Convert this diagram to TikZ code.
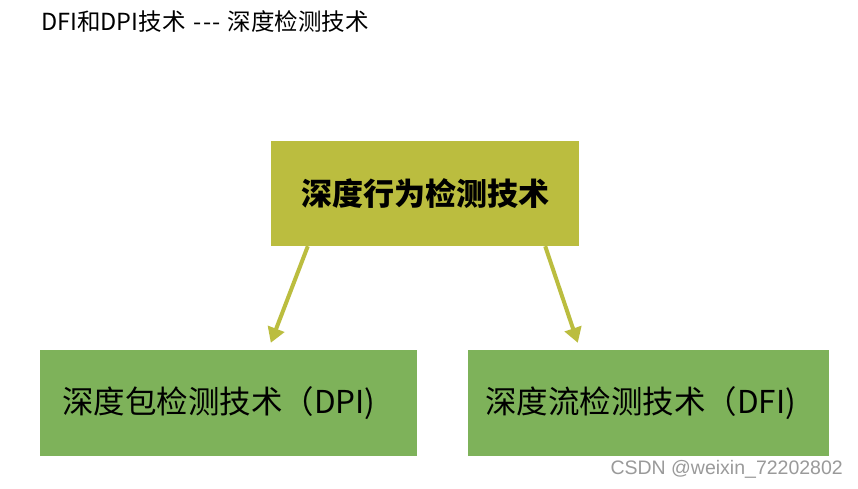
\documentclass[tikz,border=0pt]{standalone}
\usepackage{fontspec}
\setmainfont[Ligatures=NoCommon]{Noto Sans CJK SC}
\newfontfamily\markfont{Liberation Sans}
\usetikzlibrary{arrows.meta,positioning,calc}
\definecolor{olive}{HTML}{BBBD3F}
\definecolor{leaf}{HTML}{7EB25A}
\definecolor{markgray}{HTML}{9A9A9A}
\tikzset{topbox/.style={fill=olive,minimum width=308pt,minimum height=105pt,
  font=\fontsize{31}{36}\selectfont\bfseries,inner sep=0pt},
  subbox/.style={fill=leaf,minimum height=106pt,align=left,inner ysep=0pt,
  font=\fontsize{31.5}{38}\selectfont},
  arrow/.style={-{Triangle[width=17pt,length=15pt]},line width=4pt,draw=olive}}
\begin{document}
\begin{tikzpicture}[x=1pt,y=-1pt]
\useasboundingbox[fill=white] (0,0) rectangle (858,488);
\node[anchor=west,inner sep=0pt,font=\fontsize{23.5}{28}\selectfont] (title) at (41,21){DFI和DPI技术\hspace{3pt} {-}\kern1pt{-}\kern1pt{-}\hspace{2pt} 深度检测技术};
\node[topbox] (behav) at (425,193.5){深度行为检测技术};
\node[subbox,text width=333pt,inner xsep=22pt] (dpi) at (228.5,403){深度包检测技术（DPI)};
\node[subbox,text width=327pt,inner xsep=17pt] (dfi) at (648.5,403){深度流检测技术（DFI)};
\draw[arrow] ($(behav.south west)+(37,0)$) -- ($(dpi.north west)+(231,-7)$);
\draw[arrow] ($(behav.south east)+(-34,0)$) -- ($(dfi.north west)+(110,-7)$);
\node[anchor=east,inner sep=0pt,font=\markfont\fontsize{19.5}{23}\selectfont,text=markgray] (mark) at (843,469){CSDN @weixin\_72202802};
\end{tikzpicture}
\end{document}
